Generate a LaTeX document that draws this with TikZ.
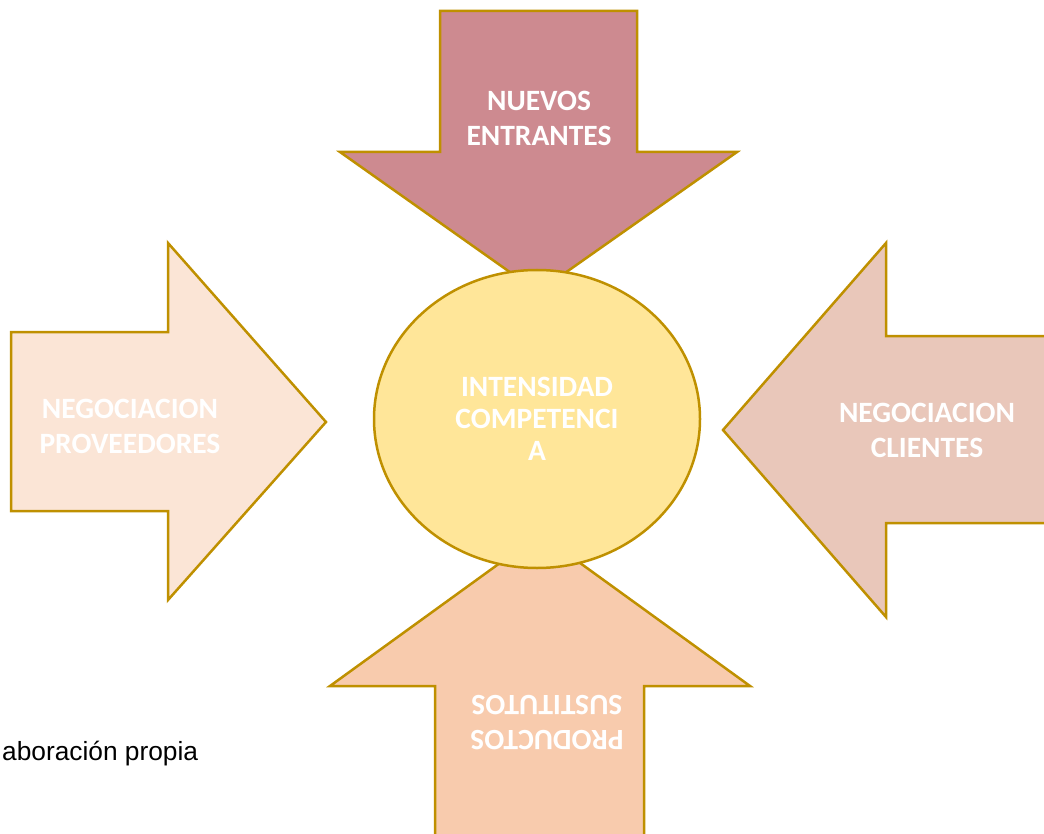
\documentclass[tikz,border=0pt]{standalone}
\usepackage{fontspec}
\setmainfont{Liberation Sans}
\newfontfamily\labelfont{Carlito}
\usetikzlibrary{positioning,shapes.geometric}
\definecolor{gold}{RGB}{191,144,0}
\definecolor{rose}{RGB}{205,138,144}
\definecolor{peachlight}{RGB}{251,229,214}
\definecolor{peach}{RGB}{248,203,173}
\definecolor{blush}{RGB}{233,199,186}
\definecolor{butter}{RGB}{255,230,153}
\newcommand{\borderwidth}{2.5pt}
\tikzset{
  x=1pt,y=-1pt,
  force/.style={draw=gold,line width=\borderwidth,line join=miter},
  forcelabel/.style={text=white,align=center,font=\labelfont\bfseries\fontsize{29.5}{35}\selectfont},
  core/.style={draw=gold,fill=butter,line width=\borderwidth,shape=ellipse,minimum width=326pt,minimum height=298pt,inner sep=0}
}
\begin{document}
\begin{tikzpicture}
  \useasboundingbox (0,0) rectangle (1044,834);
  \clip (0,0) rectangle (1044,834);

  % the four forces
  \path [force,fill=rose] (440,11) -- (637,11) -- (637,152) -- (737,152) -- (538,292)
    -- (340,152) -- (440,152) -- cycle;
  \path [force,fill=peachlight] (11,332) -- (168,332) -- (168,243) -- (326,422)
    -- (168,600) -- (168,511) -- (11,511) -- cycle;
  \path [force,fill=blush] (1060,336) -- (886,336) -- (886,243) -- (723,430)
    -- (886,617) -- (886,523) -- (1060,523);
  \path [force,fill=peach] (435,850) -- (435,686) -- (330,686) -- (540,534)
    -- (750,686) -- (644,686) -- (644,850);

  \node (entrants) [forcelabel] at (539,118) {NUEVOS\\ENTRANTES};
  \node (suppliers) [forcelabel] at (130,426) {NEGOCIACION\\PROVEEDORES};
  \node (clients) [forcelabel] at (927,430) {NEGOCIACION\\CLIENTES};
  \node (substitutes) [forcelabel,rotate=180] at (547,723) {PRODUCTOS\\SUSTITUTOS};

  % centre
  \node (rivalry) [core,forcelabel,font=\labelfont\bfseries\fontsize{29.5}{32}\selectfont] at (537,419) {INTENSIDAD\\COMPETENCI\\A};

  \node (source) [anchor=base west,inner sep=0,font=\fontsize{26.3}{30}\selectfont] at (2,760) {aboración propia};
\end{tikzpicture}
\end{document}
